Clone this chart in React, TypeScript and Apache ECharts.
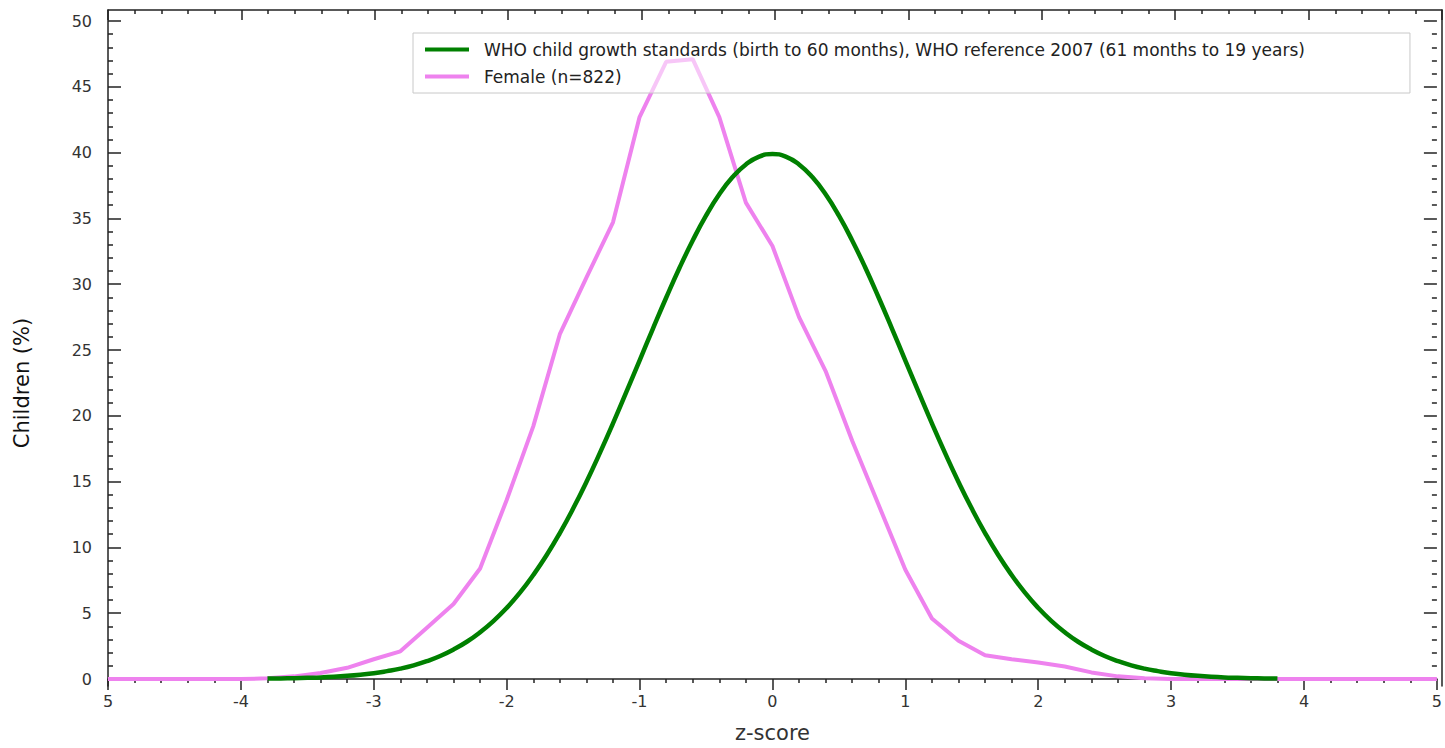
import React, { useEffect, useRef } from "react";
import * as echarts from "echarts";

// WHO reference curve (z-score, % of children)
const whoZ = [
  -3.8, -3.7, -3.6, -3.5, -3.4, -3.3, -3.2, -3.1, -3.0, -2.9, -2.8, -2.7, -2.6, -2.5, -2.4, -2.3, -2.2, -2.1, -2.0,
  -1.9, -1.8, -1.7, -1.6, -1.5, -1.4, -1.3, -1.2, -1.1, -1.0, -0.9, -0.8, -0.7, -0.6, -0.5, -0.4, -0.3, -0.2, -0.1,
  0.0, 0.1, 0.2, 0.3, 0.4, 0.5, 0.6, 0.7, 0.8, 0.9, 1.0, 1.1, 1.2, 1.3, 1.4, 1.5, 1.6, 1.7, 1.8, 1.9, 2.0, 2.1, 2.2,
  2.3, 2.4, 2.5, 2.6, 2.7, 2.8, 2.9, 3.0, 3.1, 3.2, 3.3, 3.4, 3.5, 3.6, 3.7, 3.8,
];
const whoValues = [
  0.03, 0.04, 0.06, 0.09, 0.12, 0.17, 0.24, 0.33, 0.44, 0.6, 0.79, 1.04, 1.36, 1.75, 2.24, 2.83, 3.55, 4.4, 5.4,
  6.56, 7.9, 9.4, 11.09, 12.95, 14.97, 17.14, 19.42, 21.79, 24.2, 26.61, 28.97, 31.23, 33.32, 35.21, 36.83, 38.14,
  39.1, 39.7, 39.89, 39.7, 39.1, 38.14, 36.83, 35.21, 33.32, 31.23, 28.97, 26.61, 24.2, 21.79, 19.42, 17.14, 14.97,
  12.95, 11.09, 9.4, 7.9, 6.56, 5.4, 4.4, 3.55, 2.83, 2.24, 1.75, 1.36, 1.04, 0.79, 0.6, 0.44, 0.33, 0.24, 0.17,
  0.12, 0.09, 0.06, 0.04, 0.03,
];

// Female sample (n=822)
const femaleZ = [
  -5.0, -4.8, -4.6, -4.4, -4.2, -4.0, -3.8, -3.6, -3.4, -3.2, -3.0, -2.8, -2.6, -2.4, -2.2, -2.0, -1.8, -1.6, -1.4,
  -1.2, -1.0, -0.8, -0.6, -0.4, -0.2, 0.0, 0.2, 0.4, 0.6, 0.8, 1.0, 1.2, 1.4, 1.6, 1.8, 2.0, 2.2, 2.4, 2.6, 2.8, 3.0,
  3.2, 3.4, 3.6, 3.8, 4.0, 4.2, 4.4, 4.6, 4.8, 5.0,
];
const femaleValues = [
  0, 0, 0, 0, 0, 0, 0.05, 0.2, 0.45, 0.85, 1.5, 2.1, 3.9, 5.7, 8.4, 13.6, 19.2, 26.2, 30.5, 34.7, 42.7, 46.9, 47.1,
  42.7, 36.2, 32.9, 27.5, 23.4, 18.1, 13.2, 8.3, 4.6, 2.9, 1.8, 1.5, 1.25, 0.95, 0.5, 0.2, 0.05, 0, 0, 0, 0, 0, 0,
  0, 0, 0, 0, 0,
];

const seriesNames = [
  "WHO child growth standards (birth to 60 months), WHO reference 2007 (61 months to 19 years)",
  "Female (n=822)",
];

const xTickFormat = (v: number) => (v === -5 ? "5" : String(v));

export default function App() {
  const ref = useRef<HTMLDivElement>(null);
  useEffect(() => {
    if (!ref.current) return;
    const chart = echarts.init(ref.current, undefined, { renderer: "svg" });
    const ink = "#222";
    const labelStyle = { color: "#333", fontSize: 16, fontFamily: "DejaVu Sans" };
    const lineOn = { show: true, onZero: false, lineStyle: { color: ink, width: 1.5 } };
    const lineOff = { show: false, onZero: false };
    const tickStyle = { color: ink, width: 1.5 };
    chart.setOption({
      animation: false,
      backgroundColor: "#fff",
      grid: [
        { left: 108, right: 3, top: 21, bottom: 62 },
        { left: 108, right: 3, top: 10, bottom: 62 },
      ],
      legend: {
        orient: "vertical",
        left: 413,
        top: 33,
        padding: [8, 105, 8, 12],
        itemGap: 10,
        itemWidth: 44,
        itemHeight: 4,
        icon: "rect",
        borderColor: "#c8c8c8",
        borderWidth: 1,
        backgroundColor: "rgba(255,255,255,0.55)",
        textStyle: {
          color: "#222",
          fontSize: 17,
          fontFamily: "DejaVu Sans",
          padding: [0, 0, 0, 10],
        },
        data: seriesNames,
      },
      xAxis: [
        {
          gridIndex: 0,
          type: "value",
          min: -5,
          max: 5,
          interval: 1,
          position: "bottom",
          name: "z-score",
          nameLocation: "middle",
          nameGap: 43,
          nameTextStyle: { color: "#333", fontSize: 21, fontFamily: "DejaVu Sans" },
          axisLine: lineOn,
          axisTick: { show: true, inside: false, length: 11, lineStyle: tickStyle },
          minorTick: { show: true, splitNumber: 5, length: 4, lineStyle: tickStyle },
          axisLabel: { ...labelStyle, margin: 14, formatter: xTickFormat },
          splitLine: { show: false },
        },
        {
          gridIndex: 1,
          type: "value",
          min: -5,
          max: 5,
          interval: 1,
          position: "top",
          axisLine: lineOn,
          axisTick: { show: true, inside: true, length: 10, lineStyle: tickStyle },
          minorTick: { show: true, splitNumber: 5, length: 4, lineStyle: tickStyle },
          axisLabel: { show: false },
          splitLine: { show: false },
        },
      ],
      yAxis: [
        {
          gridIndex: 0,
          type: "value",
          min: 0,
          max: 50,
          interval: 5,
          position: "left",
          name: "Children (%)",
          nameLocation: "middle",
          nameGap: 76,
          nameRotate: 90,
          nameTextStyle: { color: "#111", fontSize: 21, fontFamily: "DejaVu Sans", padding: [0, 66, 0, 0] },
          axisLine: lineOff,
          axisTick: { show: true, inside: true, length: 13, lineStyle: tickStyle },
          minorTick: { show: true, splitNumber: 5, length: 5, lineStyle: tickStyle },
          axisLabel: { ...labelStyle, margin: 16 },
          splitLine: { show: false },
        },
        {
          gridIndex: 0,
          type: "value",
          min: 0,
          max: 50,
          interval: 5,
          position: "right",
          axisLine: lineOff,
          axisTick: { show: true, inside: true, length: 13, lineStyle: tickStyle },
          minorTick: { show: true, splitNumber: 5, length: 5, lineStyle: tickStyle },
          axisLabel: { show: false },
          splitLine: { show: false },
        },
        {
          gridIndex: 1,
          type: "value",
          min: 0,
          max: 1,
          position: "left",
          axisLine: lineOn,
          axisTick: { show: false },
          axisLabel: { show: false },
          splitLine: { show: false },
        },
        {
          gridIndex: 1,
          type: "value",
          min: 0,
          max: 1,
          position: "right",
          axisLine: lineOn,
          axisTick: { show: false },
          axisLabel: { show: false },
          splitLine: { show: false },
        },
      ],
      series: [
        {
          name: seriesNames[0],
          type: "line",
          xAxisIndex: 0,
          yAxisIndex: 0,
          data: whoZ.map((z, i) => [z, whoValues[i]]),
          showSymbol: false,
          smooth: true,
          lineStyle: { color: "#008000", width: 4.5 },
          itemStyle: { color: "#008000" },
          z: 3,
        },
        {
          name: seriesNames[1],
          type: "line",
          xAxisIndex: 0,
          yAxisIndex: 0,
          data: femaleZ.map((z, i) => [z, femaleValues[i]]),
          showSymbol: false,
          lineStyle: { color: "#EE82EE", width: 4 },
          itemStyle: { color: "#EE82EE" },
          z: 2,
        },
      ],
    });
    return () => chart.dispose();
  }, []);
  return <div ref={ref} style={{ width: 1445, height: 748, position: "fixed", left: 0, top: 0 }} />;
}
